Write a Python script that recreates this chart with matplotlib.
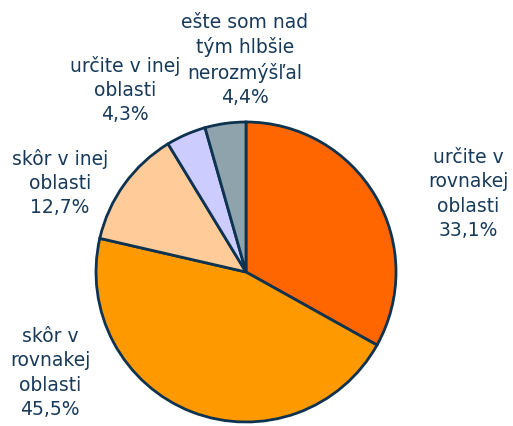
import matplotlib
matplotlib.use("Agg")
import matplotlib.pyplot as plt

# Data
labels = ["určite v\nrovnakej\noblasti", "skôr v\nrovnakej\noblasti",
          "skôr v inej\noblasti", "určite v inej\noblasti",
          "ešte som nad\ntým hlbšie\nnerozmýšľal"]
values = [33.1, 45.5, 12.7, 4.3, 4.4]
colors = ["#FF6600", "#FF9900", "#FFCC99", "#CCCCFF", "#8FA3AD"]

# label centres in pixels (x, y from top)
label_pos = [(468, 194), (50, 373), (60, 183), (125, 90), (245, 60)]

W, H = 513, 427
fig = plt.figure(figsize=(W / 100, H / 100), dpi=100)

cx, cy, r = 246, 273, 150
ax = fig.add_axes([(cx - r) / W, (H - cy - r) / H, 2 * r / W, 2 * r / H])
wedges, _ = ax.pie(values, colors=colors, startangle=90, counterclock=False,
                   wedgeprops=dict(edgecolor="#0E3350", linewidth=2.0))
for w in wedges:
    w.set_clip_on(False)
ax.set_xlim(-1, 1)
ax.set_ylim(-1, 1)
ax.axis("off")

txt_color = "#173A5A"
for lab, v, (x, y) in zip(labels, values, label_pos):
    s = lab + "\n" + f"{v:.1f}".replace(".", ",") + "%"
    fig.text(x / W, 1 - y / H, s, ha="center", va="center", fontsize=13.5,
             color=txt_color, linespacing=1.36)

fig.savefig("out.png", dpi=100)
